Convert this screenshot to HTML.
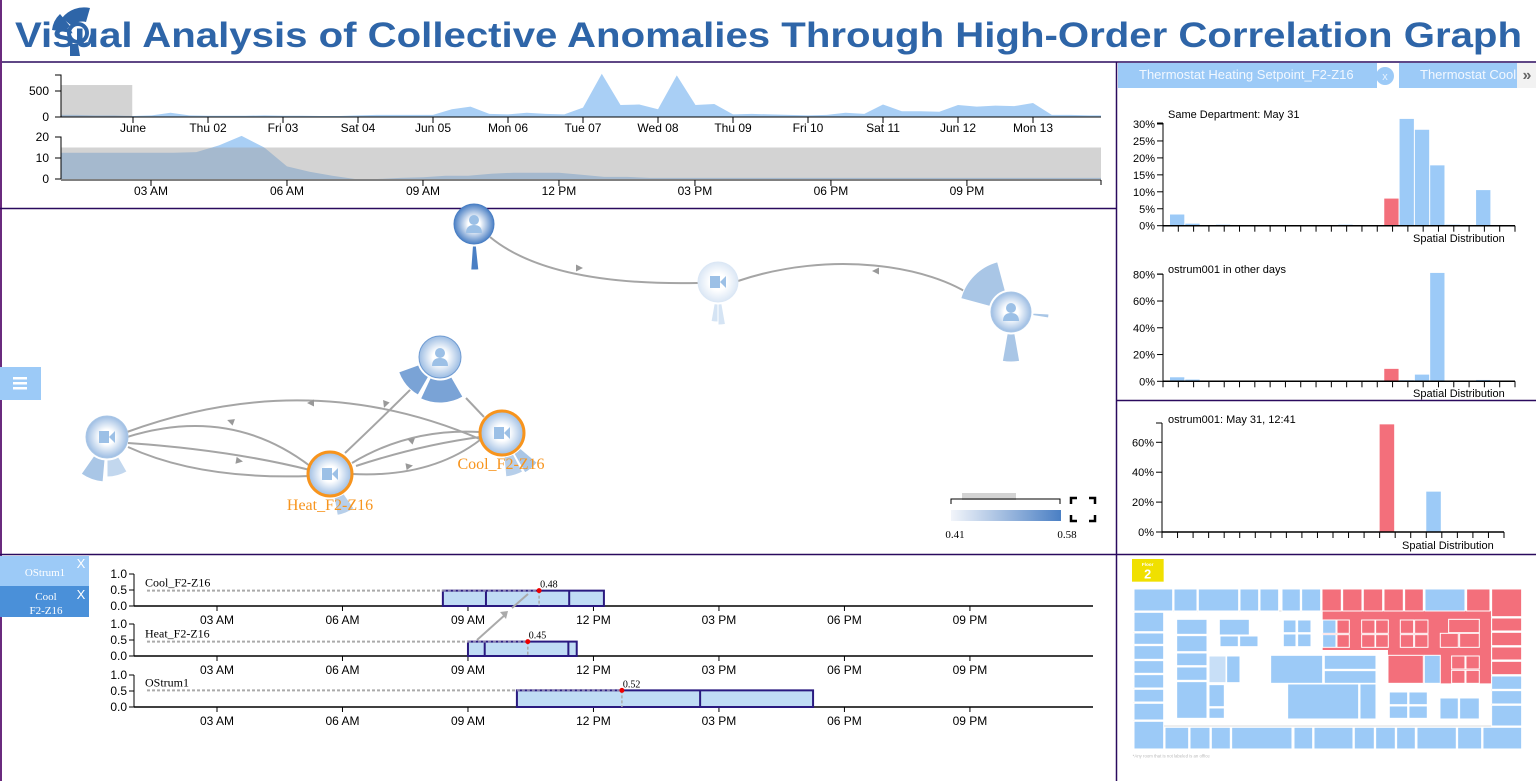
<!DOCTYPE html>
<html><head><meta charset="utf-8">
<style>
html,body{margin:0;padding:0;background:#fff;}
svg{display:block;font-family:"Liberation Sans",sans-serif;}
</style></head>
<body>
<svg id="s" width="1536" height="781" xmlns="http://www.w3.org/2000/svg">
<defs>
  <radialGradient id="nodeLight" cx="50%" cy="50%" r="50%"><stop offset="35%" stop-color="#ffffff"/><stop offset="100%" stop-color="#c5d9ef"/></radialGradient>
  <radialGradient id="nodeMid" cx="50%" cy="50%" r="50%"><stop offset="35%" stop-color="#ffffff"/><stop offset="100%" stop-color="#9dbde3"/></radialGradient>
  <radialGradient id="nodeDark" cx="50%" cy="50%" r="50%"><stop offset="30%" stop-color="#ffffff"/><stop offset="100%" stop-color="#4a7fc4"/></radialGradient>
  <radialGradient id="nodePale" cx="50%" cy="50%" r="50%"><stop offset="40%" stop-color="#ffffff"/><stop offset="100%" stop-color="#dbe7f5"/></radialGradient>
  <linearGradient id="legendGrad" x1="0" x2="1" y1="0" y2="0"><stop offset="0" stop-color="#f2f5fa"/><stop offset="1" stop-color="#4a7fc4"/></linearGradient>
  <clipPath id="ovClip"><rect x="61" y="60" width="1040" height="58"/></clipPath>
  <clipPath id="dtClip"><rect x="61" y="125" width="1040" height="55"/></clipPath>
  <clipPath id="tabClip"><rect x="1399" y="62" width="118" height="26"/></clipPath>
</defs>

<g fill="#2e65a8">
  <path d="M62,18 A28,28 0 0 1 90,8 L86,22 A14,14 0 0 0 72,26 Z"/>
  <path d="M52,30 A26,26 0 0 1 60,14 L70,26 A12,12 0 0 0 66,32 Z"/>
  <path d="M88,42 L92,30 A10,10 0 0 1 80,44 Z"/>
  <path d="M70,44 L78,44 L80,56 L70,56 Z"/>
  <circle cx="78" cy="33" r="9" fill="none" stroke="#2e65a8" stroke-width="4"/>
</g>
<text x="15" y="47" font-size="35" font-weight="bold" fill="#2e65a8" textLength="1507" lengthAdjust="spacingAndGlyphs">Visual Analysis of Collective Anomalies Through High-Order Correlation Graph</text>

<line x1="0" y1="62" x2="1536" y2="62" stroke="#2a0a5e" stroke-width="1.5"/>
<line x1="1" y1="0" x2="1" y2="781" stroke="#6a2a7e" stroke-width="2"/>
<line x1="1116.5" y1="62" x2="1116.5" y2="781" stroke="#2a0a5e" stroke-width="1.5"/>
<line x1="0" y1="208.5" x2="1116" y2="208.5" stroke="#2a0a5e" stroke-width="1.5"/>
<line x1="0" y1="554.5" x2="1536" y2="554.5" stroke="#2a0a5e" stroke-width="1.5"/>
<line x1="1116" y1="400.5" x2="1536" y2="400.5" stroke="#2a0a5e" stroke-width="1.5"/>

<rect x="1118" y="63" width="259" height="25" fill="#9ccaf7"/>
<text x="1139" y="79" font-size="13" fill="#f2f8ff">Thermostat Heating Setpoint_F2-Z16</text>
<circle cx="1385" cy="76" r="9" fill="#9ccaf7"/>
<text x="1385" y="80" font-size="11" fill="#e6f2ff" text-anchor="middle">x</text>
<rect x="1399" y="63" width="118" height="25" fill="#9ccaf7"/>
<text x="1420" y="79" font-size="13" fill="#f2f8ff" clip-path="url(#tabClip)">Thermostat Cooling Setpoint_F2-Z16</text>
<rect x="1517" y="63" width="19" height="25" fill="#f2f2f2"/>
<text x="1527" y="80" font-size="16" font-weight="bold" fill="#666" text-anchor="middle">»</text>

<rect x="0" y="367" width="41" height="33" fill="#9ccaf7"/>
<g fill="#fff"><rect x="13" y="377" width="14" height="2.5"/><rect x="13" y="382" width="14" height="2.5"/><rect x="13" y="387" width="14" height="2.5"/></g>

<g>
  <rect x="962" y="493" width="54" height="7" fill="#d3d3d3"/>
  <path d="M951,504 L951,499 L1060,499 L1060,504" fill="none" stroke="#000" stroke-width="1"/>
  <rect x="951" y="510" width="110" height="11" fill="url(#legendGrad)"/>
  <text x="955" y="538" font-size="11" font-family="Liberation Serif" text-anchor="middle">0.41</text>
  <text x="1067" y="538" font-size="11" font-family="Liberation Serif" text-anchor="middle">0.58</text>
</g>
<g fill="none" stroke="#000" stroke-width="2.5">
  <path d="M1071,504 L1071,498 L1077,498"/><path d="M1089,498 L1095,498 L1095,504"/>
  <path d="M1071,515 L1071,521 L1077,521"/><path d="M1089,521 L1095,521 L1095,515"/>
</g>

<rect x="0" y="556" width="89" height="30" fill="#9ccaf7"/>
<text x="45" y="576" font-size="11" font-family="Liberation Serif" fill="#fff" text-anchor="middle">OStrum1</text>
<text x="81" y="568" font-size="13" fill="#fff" text-anchor="middle">X</text>
<rect x="0" y="586" width="89" height="31" fill="#4a90d9"/>
<text x="46" y="600" font-size="11" font-family="Liberation Serif" fill="#fff" text-anchor="middle">Cool</text>
<text x="46" y="614" font-size="11" font-family="Liberation Serif" fill="#fff" text-anchor="middle">F2-Z16</text>
<text x="81" y="599" font-size="13" fill="#fff" text-anchor="middle">X</text>

<g id="floor" transform="translate(1116,550) scale(0.3333)"></g>
</svg>

<script>
const NS='http://www.w3.org/2000/svg';
const svg=document.getElementById('s');
function el(tag,attrs,parent){const e=document.createElementNS(NS,tag);for(const k in attrs)e.setAttribute(k,attrs[k]);(parent||svg).appendChild(e);return e;}

const overviewDayLabels=['June','Thu 02','Fri 03','Sat 04','Jun 05','Mon 06','Tue 07','Wed 08','Thu 09','Fri 10','Sat 11','Jun 12','Mon 13'];
const overviewCounts=[40,40,30,30, 20,30,80,30, 25,25,25,30, 25,25,20,20, 30,40,40,40, 40,150,200,60, 50,80,60,50, 180,830,230,240, 150,800,230,250, 50,60,50,40, 30,40,80,60, 240,110,110,100, 230,200,220,210, 270,40,40,30, 30];
const overviewTicksY=[0,500];
const overviewBrush=[0,0.99,615];
const detailTickLabels=['03 AM','06 AM','09 AM','12 PM','03 PM','06 PM','09 PM'];
const detailTickHours=[3,6,9,12,15,18,21];
const detailCounts=[12.5,12.5,12.5,12.5,12.5,12.5,12.8,16,20.5,15,6,3.5,1.5,0,0,0.5,0.8,1.5,1.5,2.5,3,3,3,2,1,1,0.5,0.5,0.5,0.5,0.5,0.5,0.5,0.5,0.5,0.5,0.5,0.5,0.5,0.5,0.5,0.5,0.5,0.5,0.5,0.5,0.5];
const detailTicksY=[0,10,20];
const detailBrushMax=15;

const xO=t=>58+75*t, yO=v=>117-v*26/500;
const xD=h=>15+45.33*h, yD=v=>179-2.1*v;

let d='M'+xO(0)+','+yO(0);
overviewCounts.forEach((v,i)=>{d+=' L'+xO(i*0.25).toFixed(1)+','+yO(v).toFixed(1);});
d+=' L'+xO((overviewCounts.length-1)*0.25)+','+yO(0)+' Z';
let e=el('path',{d:d,fill:'#a9cff5','clip-path':'url(#ovClip)'});


e=el('rect',{x:61,y:yO(overviewBrush[2]),width:xO(overviewBrush[1])-61,height:yO(0)-yO(overviewBrush[2]),fill:'rgb(162,162,162)','fill-opacity':0.47});


el('path',{d:'M55,75 L61,75 L61,117',fill:'none',stroke:'#000'});
el('line',{x1:61,y1:117,x2:1101,y2:117,stroke:'#000'});
overviewTicksY.forEach(v=>{
  el('line',{x1:55,x2:61,y1:yO(v),y2:yO(v),stroke:'#000'});
  const t=el('text',{x:49,y:yO(v)+4,'font-size':12,'text-anchor':'end'});t.textContent=v;
  
  
});
overviewDayLabels.forEach((lab,i)=>{
  const x=xO(i+1);
  el('line',{x1:x,x2:x,y1:117,y2:123,stroke:'#000'});
  const t=el('text',{x:x,y:132,'font-size':12,'text-anchor':'middle'});t.textContent=lab;
  
  
});

d='M'+xD(1)+','+yD(0);
detailCounts.forEach((v,i)=>{d+=' L'+xD(1+i*0.5).toFixed(1)+','+yD(v).toFixed(1);});
d+=' L'+xD(1+(detailCounts.length-1)*0.5)+','+yD(0)+' Z';
e=el('path',{d:d,fill:'#a9cff5','clip-path':'url(#dtClip)'});


e=el('rect',{x:61,y:yD(detailBrushMax),width:1040,height:yD(0)-yD(detailBrushMax),fill:'rgb(162,162,162)','fill-opacity':0.47});


el('path',{d:'M55,137 L61,137 L61,179',fill:'none',stroke:'#000'});
el('line',{x1:61,y1:180,x2:1101,y2:180,stroke:'#000'});
el('line',{x1:1101,y1:180,x2:1101,y2:185,stroke:'#000'});
detailTicksY.forEach(v=>{
  el('line',{x1:55,x2:61,y1:yD(v),y2:yD(v),stroke:'#000'});
  const t=el('text',{x:49,y:yD(v)+4,'font-size':12,'text-anchor':'end'});t.textContent=v;
  
  
});
detailTickLabels.forEach((lab,i)=>{
  const x=xD(detailTickHours[i]);
  el('line',{x1:x,x2:x,y1:180,y2:186,stroke:'#000'});
  const t=el('text',{x:x,y:195,'font-size':12,'text-anchor':'middle'});t.textContent=lab;
  
  
});

const edges=[
 'M490,237 C530,270 600,285 698,283',
 'M975,298 C930,265 830,250 738,281',
 'M127,432 Q310,365 482,440',
 'M127,437 Q230,405 310,466',
 'M128,443 Q230,450 310,470',
 'M128,447 Q200,480 310,476',
 'M420,380 Q380,420 345,453',
 'M466,398 L484,417',
 'M352,463 Q410,428 480,432',
 'M356,466 Q420,445 480,437',
 'M352,474 Q430,478 480,440'
];
edges.forEach(p=>{
  const g=el('path',{d:p,fill:'none',stroke:'#a5a5a5','stroke-width':2});
  
  
});
[[580,268,0],[875,271,180],[310,403,180],[230,421,200],[240,461,10],[410,440,200],[410,466,-10],[385,405,110]].forEach(a=>{
  el('path',{d:'M-4,-3.5 L3,0 L-4,3.5 Z',fill:'#999',transform:`translate(${a[0]},${a[1]}) rotate(${a[2]})`});
});
function wedge(cx,cy,r0,r1,a0,a1,fill){
  const r=Math.PI/180,p=(R,a)=>[cx+R*Math.cos(a*r),cy+R*Math.sin(a*r)];
  const A=p(r1,a0),B=p(r1,a1),C=p(r0,a1),D=p(r0,a0);
  return el('path',{d:`M${A} A${r1},${r1} 0 0 1 ${B} L${C} A${r0},${r0} 0 0 0 ${D} Z`,fill:fill,stroke:'#fff','stroke-width':1});
}
const nodes=[
 {x:474,y:224,r:20,g:'nodeDark',ring:'#4a7fc4',type:'person',w:[[22,46,84,94,'#4a7fc4']]},
 {x:718,y:282,r:20,g:'nodePale',ring:'#dbe7f5',type:'camera',w:[[22,43,80,90,'#d5e4f4'],[22,40,90,100,'#d5e4f4']]},
 {x:1011,y:312,r:20,g:'nodeMid',ring:'#a9c6e6',type:'person',w:[[22,52,195,255,'#a9c6e6'],[22,50,80,100,'#a9c6e6'],[22,38,3,9,'#a9c6e6']]},
 {x:440,y:357,r:21,g:'nodeMid',ring:'#6f9bd2',type:'person',w:[[23,46,60,115,'#7aa3d6'],[23,44,120,160,'#7aa3d6']]},
 {x:107,y:437,r:21,g:'nodeMid',ring:'#a9c6e6',type:'camera',w:[[23,45,95,125,'#a9c6e6'],[23,40,60,90,'#c2d7ee']]},
 {x:330,y:474,r:22,g:'nodeMid',ring:'#f7941d',type:'camera',w:[[24,42,55,80,'#b7cfea']],label:'Heat_F2-Z16',lx:330,ly:510},
 {x:502,y:433,r:22,g:'nodeMid',ring:'#f7941d',type:'camera',w:[[24,46,40,60,'#a9c6e6'],[24,44,62,85,'#b7cfea']],label:'Cool_F2-Z16',lx:501,ly:469}
];
nodes.forEach((n,i)=>{
  n.w.forEach(w=>{const p=wedge(n.x,n.y,w[0],w[1],w[2],w[3],w[4]);
    
    });
  const c=el('circle',{cx:n.x,cy:n.y,r:n.r,fill:'url(#'+n.g+')',stroke:n.ring,'stroke-width':n.ring==='#f7941d'?3:1});
  
  
  const col='#9cc0e6';
  if(n.type==='person'){
    el('circle',{cx:n.x,cy:n.y-4,r:5,fill:col});
    el('path',{d:`M${n.x-8},${n.y+9} Q${n.x-8},${n.y+1} ${n.x},${n.y+1} Q${n.x+8},${n.y+1} ${n.x+8},${n.y+9} Z`,fill:col});
  }else{
    el('rect',{x:n.x-8,y:n.y-6,width:10,height:12,fill:col});
    el('path',{d:`M${n.x+2},${n.y} L${n.x+8},${n.y-6} L${n.x+8},${n.y+6} Z`,fill:col});
  }
  if(n.label){const t=el('text',{x:n.lx,y:n.ly,'font-size':16,'font-family':'Liberation Serif',fill:'#f7941d','text-anchor':'middle'});t.textContent=n.label;
    
    }
});

const histTitles=['Same Department: May 31','ostrum001 in other days','ostrum001: May 31, 12:41'];
const hist1Values=[3.3,0.6,0,0.3,0,0,0,0,0,0,0,0.3,0,0,8,31.5,28.3,17.8,0.3,0,10.5,0];
const hist2Values=[3,1.3,0,0.3,0,0,0,0,0,0,0,0.3,0,0,9.3,0.8,5,81,0.3,0,1,0];
const hist3Values=[0.3,0,0,0,0,0,0,0,0,0,0,0.3,0,0,72,0.3,0,27,0,0,0,0];
const hist1Ticks=[0,5,10,15,20,25,30];
const hist2Ticks=[0,20,40,60,80];
const hist3Ticks=[0,20,40,60];
const highlightBin=14;
function hist(vals,ticks,title,x0,x1,y0,pxPer,top,nT,barOff,tx,ty,lx,ly,idx){
  const g=el('g',{});
  
  
  const step=(x1-x0)/nT;
  vals.forEach((v,i)=>{
    if(v<=0)return;
    const b=el('rect',{x:x0+step*i+barOff,y:y0-v*pxPer,width:step-1,height:v*pxPer,fill:i===highlightBin?'#f36f7b':'#9ccaf7'},g);
    
    
  });
  el('line',{x1:x0,y1:top,x2:x0,y2:y0,stroke:'#000'},g);
  el('line',{x1:x0-6,y1:top,x2:x0,y2:top,stroke:'#000'},g);
  el('line',{x1:x0,y1:y0,x2:x1,y2:y0,stroke:'#000','stroke-width':1.5},g);
  for(let k=0;k<=nT;k++)el('line',{x1:x0+step*k,x2:x0+step*k,y1:y0,y2:y0+6,stroke:'#000'},g);
  ticks.forEach(v=>{
    el('line',{x1:x0-6,x2:x0,y1:y0-v*pxPer,y2:y0-v*pxPer,stroke:'#000'},g);
    const t=el('text',{x:x0-8,y:y0-v*pxPer+4,'font-size':11,'text-anchor':'end'},g);t.textContent=v+'%';
  });
  const t=el('text',{x:tx,y:ty,'font-size':11},g);t.textContent=title;
  
  
  const l=el('text',{x:lx,y:ly,'font-size':11},g);l.textContent='Spatial Distribution';
  
  
}
hist(hist1Values,hist1Ticks,histTitles[0],1163,1515,225.7,3.39,123,23,7,1168,118,1413,242,1);
hist(hist2Values,hist2Ticks,histTitles[1],1163,1515,381.3,1.338,274,23,7,1168,273,1413,397,2);
hist(hist3Values,hist3Ticks,histTitles[2],1162,1504,532,1.495,423,22,0,1168,423,1402,549,3);

const rowLabels=['Cool_F2-Z16','Heat_F2-Z16','OStrum1'];
const rowStarts=[8.4,9.0,10.17];
const rowSplits=[[9.43,11.42],[9.4,11.4],[14.55]];
const rowEnds=[12.25,11.6,17.25];
const rowPeakHours=[10.7,10.43,12.68];
const rowValues=[0.48,0.45,0.52];
const rowTickLabels=['03 AM','06 AM','09 AM','12 PM','03 PM','06 PM','09 PM'];
const rowTickHours=[3,6,9,12,15,18,21];
const rowAxisY=['0.0','0.5','1.0'];
const rowBase=[606,656,707];
const xR=h=>91.5+41.83*h;
rowLabels.forEach((lab,i)=>{
  const y0=rowBase[i],yv=v=>y0-v*32;
  const g=el('g',{});
  
  
  el('line',{x1:134,y1:yv(1),x2:134,y2:y0,stroke:'#000'},g);
  el('line',{x1:134,y1:y0,x2:1093,y2:y0,stroke:'#000','stroke-width':1.5},g);
  rowAxisY.forEach(s=>{const v=parseFloat(s);
    el('line',{x1:129,x2:134,y1:yv(v),y2:yv(v),stroke:'#000'},g);
    const t=el('text',{x:127,y:yv(v)+4,'font-size':12,'text-anchor':'end'},g);t.textContent=s;});
  rowTickLabels.forEach((s,k)=>{const x=xR(rowTickHours[k]);
    el('line',{x1:x,x2:x,y1:y0,y2:y0+5,stroke:'#000'},g);
    const t=el('text',{x:x,y:y0+18,'font-size':12,'text-anchor':'middle'},g);t.textContent=s;});
  const v=rowValues[i];
  const b=el('rect',{x:xR(rowStarts[i]),y:yv(v),width:xR(rowEnds[i])-xR(rowStarts[i]),height:v*32,fill:'#c0dcf5',stroke:'#2a1a80','stroke-width':2},g);
  
  
  rowSplits[i].forEach(h=>el('line',{x1:xR(h),x2:xR(h),y1:yv(v),y2:y0,stroke:'#2a1a80','stroke-width':2},g));
  el('line',{x1:147,x2:xR(rowStarts[i]),y1:yv(v),y2:yv(v),stroke:'#aaa','stroke-width':2,'stroke-dasharray':'3,2'},g);
  el('line',{x1:xR(rowStarts[i]),x2:xR(rowPeakHours[i]),y1:yv(v),y2:yv(v),stroke:'#8880b0','stroke-width':2,'stroke-dasharray':'3,2'},g);
  el('line',{x1:xR(rowPeakHours[i]),x2:xR(rowPeakHours[i]),y1:yv(v),y2:y0,stroke:'#aaa','stroke-width':1.5,'stroke-dasharray':'3,2'},g);
  const p=el('circle',{cx:xR(rowPeakHours[i]),cy:yv(v),r:2.5,fill:'#e00'},g);
  
  
  const vt=el('text',{x:xR(rowPeakHours[i])+1,y:yv(v)-3,'font-size':10,'font-family':'Liberation Serif'},g);vt.textContent=v.toFixed(2);
  const lt=el('text',{x:145,y:yv(v)-4,'font-size':12,'font-family':'Liberation Serif'},g);lt.textContent=lab;
  
  
});
e=el('line',{x1:477,y1:640,x2:506,y2:614,stroke:'#aaa','stroke-width':2});


el('path',{d:'M500,612 L508,611 L506,619 Z',fill:'#aaa'});
el('line',{x1:512,y1:608,x2:528,y2:594,stroke:'#aaa','stroke-width':2});

const F=document.getElementById('floor');
const B='#9ccaf7',R='#f36f7b';
el('rect',{x:54,y:183,width:1073,height:345,fill:'#fff',stroke:'#ddd','stroke-width':3},F);
el('path',{d:'M620,183 L1125,183 L1125,400 L816,400 L816,300 L620,300 Z',fill:R},F);
const rooms=[
[54,117,170,183,B],[174,117,243,183,B],[247,117,368,183,B],[372,117,428,183,B],[432,117,488,183,B],[498,117,553,183,B],[557,117,614,183,B],
[618,117,676,183,R],[680,117,738,183,R],[742,117,800,183,R],[804,117,862,183,R],[866,117,922,183,R],[927,117,1047,183,B],[1052,117,1122,183,R],[1127,117,1217,200,R],
[54,187,143,245,B],[54,249,143,283,B],[54,287,143,328,B],[54,332,143,370,B],[54,374,143,414,B],[54,418,143,456,B],[54,460,143,510,B],[54,514,143,597,B],
[1127,204,1217,243,R],[1127,247,1217,287,R],[1127,291,1217,330,R],[1127,334,1217,374,R],[1127,378,1217,418,B],[1127,422,1217,462,B],[1127,466,1217,528,B],
[147,532,218,597,B],[222,532,282,597,B],[286,532,343,597,B],[347,532,528,597,B],[534,532,590,597,B],[594,532,711,597,B],[715,532,775,597,B],[779,532,838,597,B],[842,532,898,597,B],[903,532,1021,597,B],[1025,532,1097,597,B],[1101,532,1217,597,B],
[182,208,273,253,B],[182,257,273,305,B],[182,309,273,347,B],[182,351,273,391,B],[182,395,273,505,B],[310,208,400,255,B],[312,258,367,290,B],[371,258,426,290,B],
[279,318,330,398,'#c8dff7'],[332,318,372,398,B],[279,404,325,470,B],[279,474,325,505,B],
[502,210,540,248,B],[545,210,585,248,B],[502,252,540,290,B],[545,252,585,290,B],
[620,210,660,250,B],[663,210,700,250,R],[620,254,660,292,B],[663,254,700,292,R],
[737,210,777,250,R],[779,210,817,250,R],[737,254,777,292,R],[779,254,817,292,R],
[853,210,893,250,R],[896,210,936,250,R],[853,254,893,292,R],[896,254,936,292,R],
[998,208,1090,248,R],[973,250,1027,292,R],[1031,250,1090,292,R],
[816,316,922,400,R],[925,316,973,400,B],[1007,318,1047,357,R],[1050,318,1090,357,R],[1007,361,1047,400,R],[1050,361,1090,400,R],
[464,316,620,400,B],[625,316,780,358,B],[625,362,780,400,B],[515,402,728,507,B],[732,402,780,507,B],
[820,426,875,464,B],[879,426,934,464,B],[820,468,875,505,B],[879,468,934,505,B],[972,444,1027,507,B],[1031,444,1090,507,B]
];
rooms.forEach(r=>{
  const rc=el('rect',{x:r[0],y:r[1],width:r[2]-r[0],height:r[3]-r[1],fill:r[4],stroke:'#fff','stroke-width':3},F);
  
  
});
el('rect',{x:48,y:27,width:95,height:68,fill:'#f0e000'},F);
let t=el('text',{x:95,y:48,'font-size':14,fill:'#fff','text-anchor':'middle','font-weight':'bold'},F);t.textContent='Floor';


t=el('text',{x:95,y:86,'font-size':38,fill:'#fff','text-anchor':'middle','font-weight':'bold'},F);t.textContent='2';


t=el('text',{x:50,y:622,'font-size':13,fill:'#bbb'},F);t.textContent='*Any room that is not labeled is an office';


</script>
</body></html>
